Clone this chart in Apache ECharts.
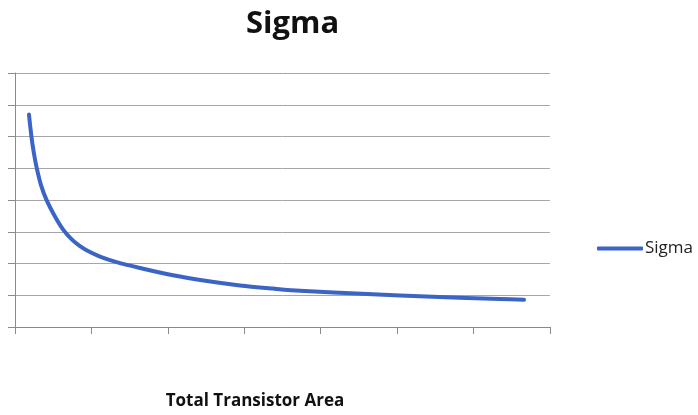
<!DOCTYPE html>
<html>
<head>
<meta charset="utf-8">
<script src="https://cdn.jsdelivr.net/npm/echarts@6/dist/echarts.min.js"></script>
<style>
  html, body { margin: 0; padding: 0; background: #fff; }
  #chart { width: 698px; height: 415px; }
</style>
</head>
<body>
<div id="chart"></div>
<script>
// Sigma versus total transistor area
const areaValues = [0.183, 0.216, 0.249, 0.284, 0.340, 0.415, 0.523, 0.632, 0.746, 0.850, 0.981, 1.112, 1.308, 1.635, 2.067, 2.512, 2.944, 3.376, 3.729, 4.606, 5.469, 6.345, 6.66];
const sigmaValues = [6.69, 5.98, 5.45, 5.01, 4.47, 3.99, 3.48, 3.06, 2.75, 2.55, 2.36, 2.22, 2.06, 1.86, 1.63, 1.45, 1.31, 1.21, 1.14, 1.04, 0.95, 0.88, 0.86];
const seriesName = 'Sigma';

const points = areaValues.map((x, i) => [x, sigmaValues[i]]);
const font = '"Open Sans", "Noto Sans", sans-serif';

const chart = echarts.init(document.getElementById('chart'), null, { renderer: 'canvas' });
chart.setOption({
  animation: false,
  backgroundColor: '#ffffff',
  title: {
    text: 'Sigma',
    left: 241,
    top: 4,
    textStyle: { fontFamily: font, fontSize: 31, fontWeight: 'bold', color: '#111' }
  },
  legend: {
    data: [seriesName],
    left: 592,
    top: 235,
    icon: 'roundRect',
    itemWidth: 46,
    itemHeight: 4,
    itemGap: 4,
    textStyle: { fontFamily: font, fontSize: 17, color: '#222', padding: [0, 0, 0, -3] }
  },
  grid: { left: 15, right: 148, top: 73, bottom: 86 },
  xAxis: {
    type: 'value',
    min: 0,
    max: 7,
    interval: 1,
    name: 'Total Transistor Area',
    nameLocation: 'middle',
    nameGap: 66,
    nameTextStyle: { fontFamily: font, fontSize: 17, fontWeight: 'bold', color: '#111', padding: [0, 0, 0, -55] },
    axisLine: { lineStyle: { color: '#8a8a8a', width: 1 } },
    axisTick: { show: true, inside: false, length: 7, lineStyle: { color: '#8a8a8a' } },
    axisLabel: { show: false },
    splitLine: { show: false }
  },
  yAxis: {
    type: 'value',
    min: 0,
    max: 8,
    interval: 1,
    axisLine: { show: true, lineStyle: { color: '#8a8a8a', width: 1 } },
    axisTick: { show: true, inside: false, length: 7, lineStyle: { color: '#8a8a8a' } },
    axisLabel: { show: false },
    splitLine: { show: true, lineStyle: { color: '#a6a6a6', width: 1 } }
  },
  series: [{
    name: seriesName,
    type: 'line',
    data: points,
    smooth: 0.3,
    showSymbol: false,
    symbol: 'none',
    lineStyle: { color: '#3a64c6', width: 4, cap: 'round', join: 'round' },
    itemStyle: { color: '#3a64c6' }
  }]
});
</script>
</body>
</html>
